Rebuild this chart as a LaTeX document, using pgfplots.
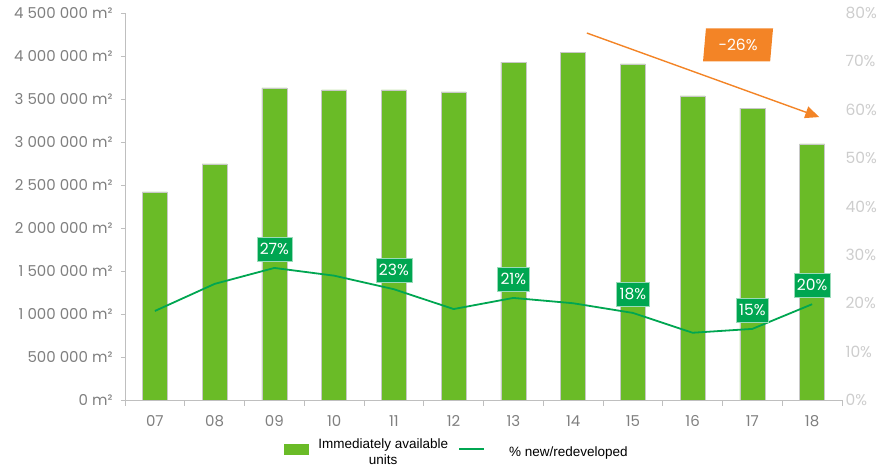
\documentclass[border=0pt]{standalone}
\usepackage{pgfplots}
\pgfplotsset{compat=1.18}
\usepackage{fontspec}
\setmainfont{Poppins}
\newfontfamily\arialfont{Liberation Sans}
\usetikzlibrary{arrows.meta,shapes.geometric}
\definecolor{barg}{RGB}{106,187,39}
\definecolor{lineg}{RGB}{0,166,81}
\definecolor{boxg}{RGB}{0,166,81}
\definecolor{orng}{RGB}{243,132,38}
\definecolor{axgray}{RGB}{191,191,191}
\definecolor{lblgray}{RGB}{127,127,127}
\definecolor{rgray}{RGB}{205,205,205}
\begin{document}
\begin{tikzpicture}
\begin{axis}[
  scale only axis, width=717pt, height=387pt,
  xmin=-0.5, xmax=11.5, ymin=0, ymax=4500000,
  axis x line*=bottom, axis y line*=left,
  axis line style={axgray, line width=0.8pt},
  tick align=outside,
  xtick={0,...,11},
  xticklabels={07,08,09,10,11,12,13,14,15,16,17,18},
  major x tick style={draw=none},
  minor xtick={-0.5,0.5,...,11.5},
  minor x tick style={axgray, line width=0.8pt},
  minor tick length=6pt,
  ytick={0,500000,...,4500000},
  yticklabels={0 m²,500 000 m²,1 000 000 m²,1 500 000 m²,2 000 000 m²,2 500 000 m²,3 000 000 m²,3 500 000 m²,4 000 000 m²,4 500 000 m²},
  y tick style={axgray, line width=0.8pt},
  major tick length=4pt,
  scaled y ticks=false,
  tick label style={font=\fontsize{15}{15}\selectfont, text=lblgray},
  xticklabel style={yshift=-8pt},
  yticklabel style={xshift=-5pt},
  legend style={at={(axis description cs:0.4628,-0.09)}, anchor=north, draw=none, fill=none,
    font=\arialfont\fontsize{13.5}{16}\selectfont, legend columns=2,
    column sep=8pt, cells={align=center}},
  legend cell align=center,
]
\addplot[ybar, bar width=25pt, fill=barg, draw={rgb,255:red,200;green,200;blue,200}, line width=0.3pt,
  legend image code/.code={\fill[barg] (0pt,-1pt) rectangle (24pt,9pt);}]
  coordinates {(0,2420000) (1,2745000) (2,3628000) (3,3605000) (4,3605000) (5,3582000)
               (6,3930000) (7,4045000) (8,3907000) (9,3535000) (10,3395000) (11,2977000)};
\addlegendentry{Immediately available\\units}
\addlegendimage{legend image code/.code={\draw[lineg, line width=2pt] (0pt,4pt) -- (25pt,4pt);}}
\addlegendentry{\hspace*{14pt}\% new/redeveloped}
\draw[orng, line width=1.4pt, -{Triangle[length=14pt,width=12pt]}] (axis cs:7.23,4267000) -- (axis cs:11.12,3290000);
\node[trapezium, trapezium left angle=76, trapezium right angle=104, trapezium stretches body, fill=orng, text=white,
  minimum height=33pt, minimum width=70pt, inner sep=0pt, font=\fontsize{15.5}{15.5}\selectfont] at (axis cs:9.76,4128000) {-26\%};
\coordinate (BL) at (rel axis cs:0,0);
\end{axis}
\begin{axis}[
  scale only axis, width=717pt, height=387pt,
  xmin=-0.5, xmax=11.5, ymin=0, ymax=80,
  axis x line=none, axis y line*=right,
  y axis line style={draw=none},
  ytick={0,10,...,80},
  yticklabels={0\%,10\%,20\%,30\%,40\%,50\%,60\%,70\%,80\%},
  major y tick style={draw=none},
  yticklabel style={font=\fontsize{15.5}{15.5}\selectfont, text=rgray},
]
\addplot[lineg, line width=1.8pt, mark=none] coordinates {(0,18.4) (1,24.0) (2,27.3) (3,25.7) (4,22.9) (5,18.8)
  (6,21.1) (7,20.0) (8,18.0) (9,13.9) (10,14.7) (11,19.8)};
\addplot[draw=none, mark=none, nodes near coords, point meta=explicit symbolic,
  nodes near coords style={fill=boxg, text=white, anchor=center, yshift=19pt, draw=white!60!boxg, line width=0.5pt,
    minimum height=24pt, inner xsep=3pt, font=\fontsize{15.5}{15.5}\selectfont}]
  coordinates {(2,27.3)[27\%] (4,22.9)[23\%] (6,21.1)[21\%] (8,18.0)[18\%] (10,14.7)[15\%] (11,19.8)[20\%]};
\end{axis}
\pgfresetboundingbox
\useasboundingbox ([shift={(-125pt,-70pt)}]BL) rectangle ++(894pt,470pt);
\end{tikzpicture}
\end{document}
